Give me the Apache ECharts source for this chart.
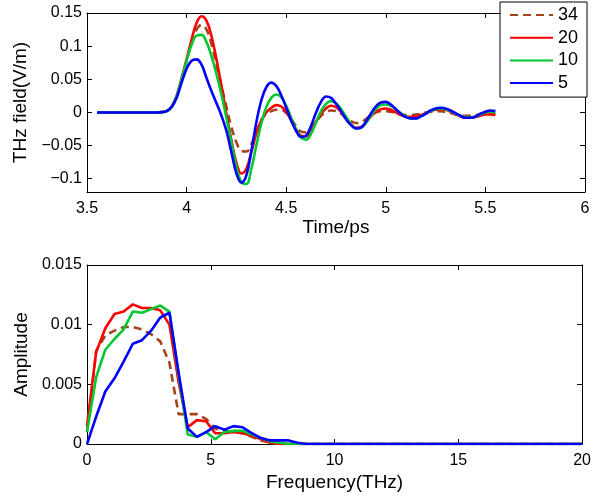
<!DOCTYPE html>
<html><head><meta charset="utf-8">
<script src="https://cdn.jsdelivr.net/npm/echarts@6/dist/echarts.min.js"></script>
<style>html,body{margin:0;padding:0;background:#fff}#c{width:594px;height:497px}</style>
</head><body><div id="c"></div>
<script>
const seriesNames = ['34', '20', '10', '5'];
const seriesColors = ['#a3441c', '#ff0000', '#00c832', '#0000ff'];

const timePs = [3.55, 3.85, 3.875,
  3.9, 3.925, 3.95, 3.975,
  4.0, 4.025, 4.05, 4.075,
  4.1, 4.125, 4.15, 4.175,
  4.2, 4.225, 4.25, 4.275,
  4.3, 4.325, 4.35, 4.375,
  4.4, 4.425, 4.45, 4.475,
  4.5, 4.525, 4.55, 4.575,
  4.6, 4.625, 4.65, 4.675,
  4.7, 4.725, 4.75, 4.775,
  4.8, 4.825, 4.85, 4.875,
  4.9, 4.925, 4.95, 4.975,
  5.0, 5.025, 5.05, 5.075,
  5.1, 5.125, 5.15, 5.175,
  5.2, 5.225, 5.25, 5.275,
  5.3, 5.325, 5.35, 5.375,
  5.4, 5.425, 5.45, 5.475,
  5.5, 5.525, 5.55];

const field34 = [0, 0, 0.0005,
  0.002, 0.009, 0.025, 0.050,
  0.078, 0.105, 0.125, 0.132,
  0.125, 0.103, 0.072, 0.040,
  0.008, -0.022, -0.045, -0.058,
  -0.059, -0.048, -0.030, -0.012,
  -0.002, 0.002, 0.004, 0.004,
  -0.001, -0.010, -0.021, -0.029,
  -0.030, -0.024, -0.014, -0.005,
  0.001, 0.003, 0.002, -0.002,
  -0.008, -0.013, -0.016, -0.015,
  -0.010, -0.004, 0.000, 0.002,
  0.002, 0.001, -0.001, -0.003,
  -0.004, -0.004, -0.003, -0.002,
  0.000, 0.001, 0.002, 0.002,
  0.001, -0.001, -0.003, -0.004,
  -0.005, -0.005, -0.004, -0.003,
  -0.002, -0.002, -0.002];

const field20 = [0, 0, 0.0005,
  0.002, 0.009, 0.025, 0.052,
  0.080, 0.110, 0.135, 0.145,
  0.138, 0.115, 0.080, 0.040,
  -0.002, -0.042, -0.076, -0.092,
  -0.085, -0.060, -0.032, -0.012,
  0.000, 0.007, 0.011, 0.009,
  0.001, -0.012, -0.026, -0.035,
  -0.036, -0.028, -0.014, -0.002,
  0.006, 0.010, 0.008, 0.001,
  -0.008, -0.017, -0.023, -0.022,
  -0.015, -0.006, 0.001, 0.005,
  0.006, 0.004, 0.000, -0.004,
  -0.006, -0.007, -0.006, -0.004,
  -0.001, 0.002, 0.004, 0.005,
  0.004, 0.001, -0.003, -0.006,
  -0.008, -0.008, -0.007, -0.005,
  -0.003, -0.003, -0.004];

const field10 = [0, 0, 0.0005,
  0.002, 0.009, 0.025, 0.050,
  0.078, 0.102, 0.116, 0.117,
  0.106, 0.085, 0.058, 0.027,
  -0.008, -0.045, -0.082, -0.105,
  -0.108, -0.085, -0.050, -0.017,
  0.008, 0.022, 0.027, 0.023,
  0.010, -0.008, -0.026, -0.038,
  -0.041, -0.032, -0.015, 0.002,
  0.013, 0.017, 0.014, 0.005,
  -0.006, -0.017, -0.024, -0.023,
  -0.016, -0.005, 0.005, 0.011,
  0.012, 0.010, 0.005, -0.001,
  -0.006, -0.009, -0.009, -0.006,
  -0.002, 0.002, 0.005, 0.006,
  0.005, 0.002, -0.002, -0.005,
  -0.007, -0.008, -0.006, -0.003,
  0.000, 0.001, 0.000];

const field5 = [0, 0, 0.0005,
  0.002, 0.008, 0.022, 0.045,
  0.066, 0.078, 0.080, 0.072,
  0.052, 0.032, 0.014, -0.005,
  -0.028, -0.060, -0.092, -0.106,
  -0.095, -0.058, -0.015, 0.018,
  0.038, 0.045, 0.040, 0.026,
  0.007, -0.012, -0.028, -0.037,
  -0.035, -0.020, 0.000, 0.016,
  0.024, 0.022, 0.013, 0.002,
  -0.010, -0.019, -0.024, -0.023,
  -0.014, -0.002, 0.009, 0.015,
  0.016, 0.012, 0.005, -0.002,
  -0.007, -0.009, -0.009, -0.006,
  -0.002, 0.003, 0.006, 0.007,
  0.006, 0.003, -0.001, -0.005,
  -0.008, -0.008, -0.006, -0.002,
  0.001, 0.003, 0.002];

const freqTHz = [0, 0.37, 0.74, 1.11, 1.48, 1.85, 2.22, 2.59, 2.96, 3.33,
  3.70, 4.07, 4.44, 4.81, 5.18, 5.55, 5.92, 6.29, 6.66, 7.03,
  7.40, 7.77, 8.14, 8.51, 8.88, 9.25, 20];

const amp34 = [0.0010, 0.0078, 0.0091, 0.0095, 0.0098, 0.0098, 0.0096, 0.0092, 0.0086, 0.0068,
  0.0025, 0.0025, 0.0025, 0.0021, 0.0013, 0.0011, 0.0010, 0.0009, 0.0006, 0.0003,
  0.0001, 0, 0, 0, 0, 0, 0];
const amp20 = [0.0015, 0.0077, 0.0097, 0.0109, 0.0111, 0.0117, 0.0114, 0.0114, 0.0112, 0.0100,
  0.0052, 0.0014, 0.0020, 0.0019, 0.0009, 0.0009, 0.0010, 0.0009, 0.0007, 0.0004,
  0.0001, 0, 0, 0, 0, 0, 0];
const amp10 = [0.0010, 0.0056, 0.0079, 0.0088, 0.0096, 0.0111, 0.0110, 0.0113, 0.0116, 0.0111,
  0.0058, 0.0008, 0.0006, 0.0010, 0.0004, 0.0010, 0.0011, 0.0011, 0.0008, 0.0005,
  0.0002, 0.0001, 0, 0, 0, 0, 0];
const amp5 = [0.0000, 0.0023, 0.0044, 0.0055, 0.0069, 0.0084, 0.0087, 0.0095, 0.0106, 0.0110,
  0.0060, 0.0013, 0.0006, 0.0010, 0.0015, 0.0012, 0.0015, 0.0014, 0.0009, 0.0005,
  0.0003, 0.0003, 0.0003, 0.0001, 0, 0, 0];

const fieldTicks = [-0.1, -0.05, 0, 0.05, 0.1, 0.15];
const fieldTickLabels = ['\u22120.1', '\u22120.05', '0', '0.05', '0.1', '0.15'];
const ampTicks = [0, 0.005, 0.01, 0.015];
const ampTickLabels = ['0', '0.005', '0.01', '0.015'];

const FONT = 'Liberation Sans, Arial, sans-serif';
const fieldSets = [field34, field20, field10, field5];
const ampSets = [amp34, amp20, amp10, amp5];

function pairs(xs, ys) { return ys.map((y, i) => [xs[i], y]); }
function lookupLabel(ticks, labels) {
  return function (v) {
    let best = 0;
    for (let i = 1; i < ticks.length; i++) if (Math.abs(ticks[i] - v) < Math.abs(ticks[best] - v)) best = i;
    return labels[best];
  };
}

const lineAx = { show: true, onZero: false, lineStyle: { color: '#000', width: 1 } };
const tickAx = { show: true, inside: true, length: 5, lineStyle: { color: '#000', width: 1 } };
const labelAx = { color: '#000', fontSize: 16, fontFamily: FONT };
const nameStyle = { color: '#000', fontSize: 19, fontFamily: FONT };

function xAxes(grid, min, max, interval, name, gap) {
  return [
    { gridIndex: grid, type: 'value', min, max, interval, position: 'bottom',
      axisLine: lineAx, axisTick: tickAx, splitLine: { show: false },
      axisLabel: Object.assign({ margin: 9 }, labelAx),
      name, nameLocation: 'middle', nameGap: gap, nameTextStyle: nameStyle },
    { gridIndex: grid, type: 'value', min, max, interval, position: 'top',
      axisLine: lineAx, axisTick: tickAx, splitLine: { show: false },
      axisLabel: { show: false } }
  ];
}
function yAxes(grid, min, max, ticks, labels, name, gap) {
  return [
    { gridIndex: grid, type: 'value', min, max, position: 'left',
      axisLine: lineAx, axisTick: Object.assign({ customValues: ticks }, tickAx), splitLine: { show: false },
      axisLabel: Object.assign({ margin: 5, customValues: ticks, formatter: lookupLabel(ticks, labels) }, labelAx),
      name, nameLocation: 'middle', nameGap: gap, nameTextStyle: nameStyle },
    { gridIndex: grid, type: 'value', min, max, position: 'right',
      axisLine: lineAx, axisTick: Object.assign({ customValues: ticks }, tickAx), splitLine: { show: false },
      axisLabel: { show: false } }
  ];
}

const series = [];
seriesNames.forEach((nm, i) => {
  series.push({
    name: nm, type: 'line', xAxisIndex: 0, yAxisIndex: 0,
    data: pairs(timePs, fieldSets[i]), symbol: 'none', smooth: 0.4, z: 2 + i,
    lineStyle: { color: seriesColors[i], width: 2.6, type: i === 0 ? [8, 5] : 'solid' },
    itemStyle: { color: seriesColors[i] }
  });
});
seriesNames.forEach((nm, i) => {
  series.push({
    name: nm, type: 'line', xAxisIndex: 2, yAxisIndex: 2,
    data: pairs(freqTHz, ampSets[i]), symbol: 'none', smooth: false, z: 2 + i,
    lineStyle: { color: seriesColors[i], width: 2.6, type: i === 0 ? [8, 5] : 'solid' },
    itemStyle: { color: seriesColors[i] }
  });
});

const chart = echarts.init(document.getElementById('c'), null, { renderer: 'canvas' });
chart.setOption({
  animation: false,
  backgroundColor: '#fff',
  grid: [
    { left: 87, top: 13, width: 498, height: 179 },
    { left: 87, top: 265, width: 498, height: 179 }
  ],
  xAxis: [].concat(xAxes(0, 3.5, 6, 0.5, 'Time/ps', 26), xAxes(1, 0, 20, 5, 'Frequency(THz)', 29)),
  yAxis: [].concat(yAxes(0, -0.12, 0.15, fieldTicks, fieldTickLabels, 'THz field(V/m)', 56),
                   yAxes(1, 0, 0.015, ampTicks, ampTickLabels, 'Amplitude', 56)),
  legend: {
    data: seriesNames, orient: 'vertical', left: 500, top: 2,
    padding: [4, 9, 5, 9], itemWidth: 43, itemHeight: 18, itemGap: 4.7,
    borderColor: '#000', borderWidth: 1, backgroundColor: '#fff', borderRadius: 0,
    selectedMode: false, z: 20,
    itemStyle: { color: 'rgba(0,0,0,0)', borderColor: 'rgba(0,0,0,0)', borderWidth: 0, opacity: 0 },
    textStyle: { color: '#000', fontSize: 18, fontFamily: FONT }
  },
  series
});
</script></body></html>
